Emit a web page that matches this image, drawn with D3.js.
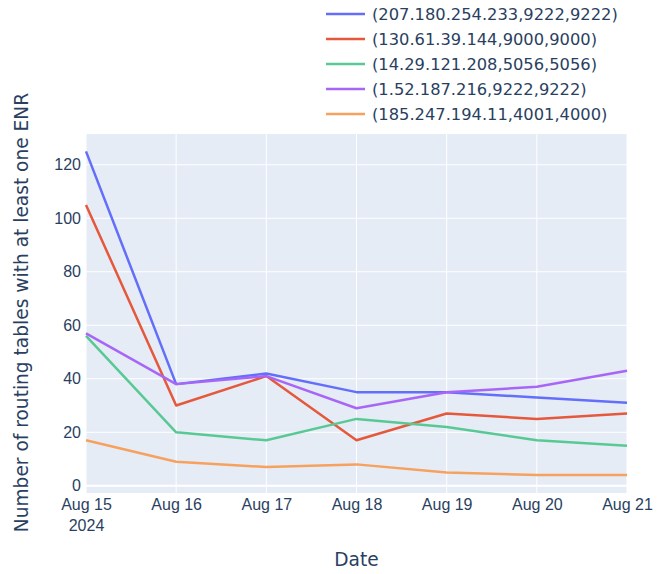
<!DOCTYPE html>
<html>
<head>
<meta charset="utf-8">
<script src="https://cdn.jsdelivr.net/npm/d3@7"></script>
<style>
  body { margin: 0; background: #fff; }
  svg { font-family: "DejaVu Sans", sans-serif; }
</style>
</head>
<body>
<div id="chart"></div>
<script>
'use strict';

// data
const dates = ['2024-08-15', '2024-08-16', '2024-08-17', '2024-08-18', '2024-08-19', '2024-08-20', '2024-08-21'];
const seriesNames = [
    '(207.180.254.233,9222,9222)',
    '(130.61.39.144,9000,9000)',
    '(14.29.121.208,5056,5056)',
    '(1.52.187.216,9222,9222)',
    '(185.247.194.11,4001,4000)'
];
const blueValues = [125, 38, 42, 35, 35, 33, 31];
const redValues = [105, 30, 41, 17, 27, 25, 27];
const greenValues = [56, 20, 17, 25, 22, 17, 15];
const purpleValues = [57, 38, 41, 29, 35, 37, 43];
const orangeValues = [17, 9, 7, 8, 5, 4, 4];
const yTicks = [0, 20, 40, 60, 80, 100, 120];

const colors = ['#636efa', '#e5583c', '#58c994', '#a866f7', '#f7a15e'];
const allValues = [blueValues, redValues, greenValues, purpleValues, orangeValues];

const width = 657, height = 574;
const margin = { left: 86, right: 30, top: 134, bottom: 81 };
const innerW = width - margin.left - margin.right;
const innerH = height - margin.top - margin.bottom;
const textColor = '#2a3f5f';

const parse = d3.timeParse('%Y-%m-%d');
const xDates = dates.map(parse);

const x = d3.scaleTime()
    .domain(d3.extent(xDates))
    .range([0, innerW]);

const y = d3.scaleLinear()
    .domain([-2.7, 131.5])
    .range([innerH, 0]);

const svg = d3.select('#chart').append('svg')
    .attr('width', width)
    .attr('height', height);

const g = svg.append('g')
    .attr('transform', `translate(${margin.left}, ${margin.top})`);

// underlay
g.append('rect')
    .attr('width', innerW)
    .attr('height', innerH)
    .attr('fill', '#E5ECF6');

// gridlines
g.append('g')
    .selectAll('line')
    .data(yTicks)
    .join('line')
    .attr('x1', 0)
    .attr('x2', innerW)
    .attr('y1', d => y(d))
    .attr('y2', d => y(d))
    .attr('stroke', '#fff')
    .attr('stroke-width', d => d === 0 ? 2 : 1);

g.append('g')
    .selectAll('line')
    .data(xDates)
    .join('line')
    .attr('x1', d => x(d))
    .attr('x2', d => x(d))
    .attr('y1', 0)
    .attr('y2', innerH)
    .attr('stroke', '#fff')
    .attr('stroke-width', 1);

// y axis
const yAxis = g.append('g')
    .call(d3.axisLeft(y).tickValues(yTicks).tickSize(0).tickPadding(5));
yAxis.select('.domain').remove();
yAxis.selectAll('text')
    .attr('fill', textColor)
    .style('font-size', '16px');

// x axis
const fmtDay = d3.timeFormat('%b %d');
const xAxis = g.append('g')
    .attr('transform', `translate(0, ${innerH})`)
    .call(d3.axisBottom(x).tickValues(xDates).tickSize(0).tickPadding(6).tickFormat(d => fmtDay(d).replace(/ 0/, ' ')));
xAxis.select('.domain').remove();
xAxis.selectAll('text')
    .attr('fill', textColor)
    .style('font-size', '16px');
xAxis.selectAll('.tick')
    .filter((d, i) => i === 0)
    .append('text')
    .attr('y', 27)
    .attr('dy', '0.71em')
    .attr('fill', textColor)
    .attr('text-anchor', 'middle')
    .style('font-size', '16px')
    .text('2024');

// lines
const line = d3.line()
    .x((d, i) => x(xDates[i]))
    .y(d => y(d));

g.append('g')
    .selectAll('path')
    .data(allValues)
    .join('path')
    .attr('d', d => line(d))
    .attr('fill', 'none')
    .attr('stroke', (d, i) => colors[i])
    .attr('stroke-width', 2.5)
    .attr('stroke-linejoin', 'round');

// axis titles
svg.append('text')
    .attr('x', margin.left + innerW / 2)
    .attr('y', 566)
    .attr('text-anchor', 'middle')
    .attr('fill', textColor)
    .style('font-size', '18.6px')
    .text('Date');

svg.append('text')
    .attr('transform', `translate(27.5, 312.5) rotate(-90)`)
    .attr('text-anchor', 'middle')
    .attr('fill', textColor)
    .style('font-size', '18.6px')
    .text('Number of routing tables with at least one ENR');

// legend
const legend = svg.append('g')
    .attr('transform', 'translate(326, 14)');
const items = legend.selectAll('g')
    .data(seriesNames)
    .join('g')
    .attr('transform', (d, i) => `translate(0, ${i * 25})`);
items.append('line')
    .attr('x1', 0)
    .attr('x2', 39)
    .attr('stroke', (d, i) => colors[i])
    .attr('stroke-width', 2.5);
items.append('text')
    .attr('x', 46)
    .attr('dy', '0.35em')
    .attr('fill', textColor)
    .style('font-size', '16.3px')
    .text(d => d);
</script>
</body>
</html>
